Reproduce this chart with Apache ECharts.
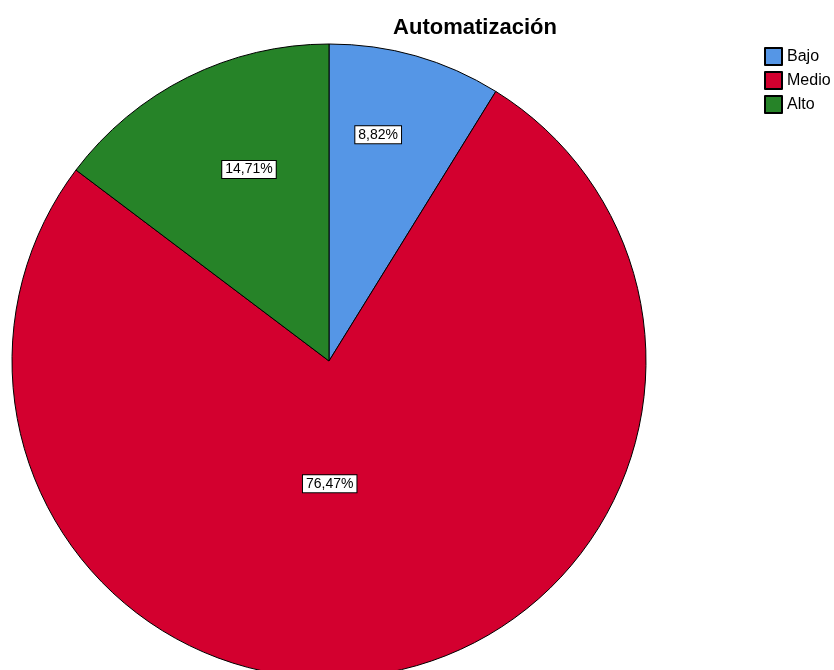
<!DOCTYPE html>
<html>
<head>
<meta charset="utf-8">
<script src="https://cdn.jsdelivr.net/npm/echarts@6/dist/echarts.min.js"></script>
<style>html,body{margin:0;padding:0;background:#fff}#c{width:834px;height:670px}</style>
</head>
<body>
<div id="c"></div>
<script>
var categories = ['Bajo', 'Medio', 'Alto'];
var values = [8.82, 76.47, 14.71];
var labels = ['8,82%', '76,47%', '14,71%'];
var colors = ['#5596E6', '#D3002F', '#268328'];
var labelOffsets = [[5, -71], [-29, -36], [-8, -47]];

var chart = echarts.init(document.getElementById('c'));
chart.setOption({
  animation: false,
  title: {
    text: 'Automatización',
    left: 470, top: 12, textAlign: 'center',
    textStyle: {fontFamily: 'Liberation Sans', fontSize: 22, fontWeight: 'bold', color: '#000'}
  },
  legend: {
    orient: 'vertical', left: 764, top: 47, padding: 0,
    itemWidth: 17, itemHeight: 17, itemGap: 5, icon: 'rect',
    textStyle: {fontFamily: 'Liberation Sans', fontSize: 16, color: '#000', lineHeight: 17},
    data: categories
  },
  series: [{
    type: 'pie',
    center: [329, 361],
    radius: 317,
    startAngle: 90,
    clockwise: true,
    label: {
      position: 'inside',
      fontFamily: 'Liberation Sans', fontSize: 14, color: '#000',
      backgroundColor: '#fff', borderColor: '#000', borderWidth: 1, padding: [2, 3, 1, 3]
    },
    labelLine: {show: false},
    itemStyle: {borderColor: '#000', borderWidth: 1},
    emphasis: {disabled: true},
    data: categories.map(function (c, i) {
      return {
        name: c, value: values[i],
        itemStyle: {color: colors[i]},
        label: {formatter: labels[i], offset: labelOffsets[i]}
      };
    })
  }]
});
</script>
</body>
</html>
